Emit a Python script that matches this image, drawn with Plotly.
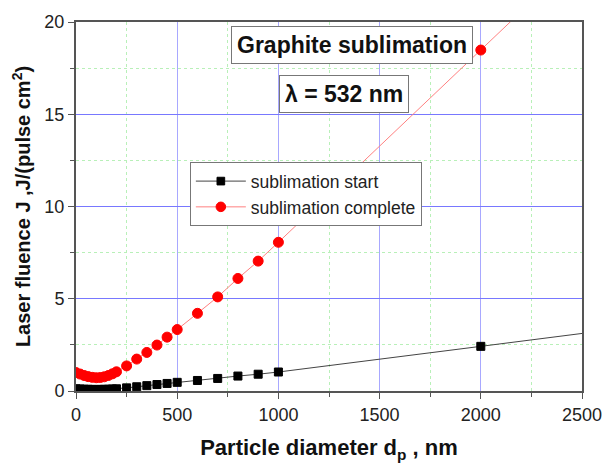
import plotly.graph_objects as go

# Particle diameter (nm)
d_start = [0, 20, 40, 60, 80, 100, 120, 140, 160, 180, 200,
           250, 300, 350, 400, 450, 500, 600, 700, 800, 900, 1000, 2000, 2500]
J_start = [0.12, 0.11, 0.10, 0.09, 0.09, 0.08, 0.09, 0.09, 0.10, 0.11, 0.12,
           0.17, 0.23, 0.29, 0.35, 0.41, 0.47, 0.57, 0.68, 0.81, 0.91, 1.03, 2.42, 3.12]

d_comp = [0, 20, 40, 60, 80, 100, 120, 140, 160, 180, 200,
          250, 300, 350, 400, 450, 500, 600, 700, 800, 900, 1000, 2000, 2500]
J_comp = [1.00, 0.92, 0.84, 0.78, 0.74, 0.72, 0.73, 0.77, 0.84, 0.93, 1.04,
          1.36, 1.73, 2.09, 2.49, 2.92, 3.33, 4.21, 5.10, 6.10, 7.04, 8.06, 18.48, 23.7]

# last entry is only a line continuation (no visible marker)
sz_start = [8] * (len(d_start) - 1) + [0]
sz_comp = [10] * (len(d_comp) - 1) + [0]

fig = go.Figure()
fig.add_trace(go.Scatter(
    x=d_start, y=J_start, mode="lines+markers", name="sublimation start",
    line=dict(color="#444444", width=1),
    marker=dict(symbol="square", size=sz_start, color="black",
                opacity=1, line=dict(width=1, color="black")),
))
fig.add_trace(go.Scatter(
    x=d_comp, y=J_comp, mode="lines+markers", name="sublimation complete",
    line=dict(color="#ff8080", width=1),
    marker=dict(symbol="circle", size=sz_comp, color="#ff0000",
                opacity=1, line=dict(width=1, color="#ff0000")),
))

font_family = "Liberation Sans, Arial, sans-serif"

fig.update_layout(
    width=614, height=470,
    margin=dict(l=76, r=23, t=14, b=79),
    paper_bgcolor="white", plot_bgcolor="white",
    font=dict(family=font_family, color="#222222"),
    showlegend=True,
    legend=dict(
        x=0.225, y=0.62, xanchor="left", yanchor="top",
        bgcolor="white", bordercolor="#777777", borderwidth=1,
        font=dict(size=17.5, family=font_family, color="#222222"),
        itemwidth=50, tracegroupgap=0,
    ),
    xaxis=dict(
        range=[0, 2500], tickvals=[0, 500, 1000, 1500, 2000, 2500],
        showline=True, linecolor="#555555", linewidth=2, mirror=True,
        ticks="outside", ticklen=6, tickwidth=1, tickcolor="#555555",
        showgrid=True, gridcolor="#a8a8ff", gridwidth=1,
        zeroline=False,
        tickfont=dict(size=18, family=font_family, color="#222222"),
        minor=dict(dtick=250, ticks="outside", ticklen=4, tickcolor="#555555",
                   showgrid=True, gridcolor="#b8f0b8", griddash="dot", gridwidth=1),
        title=dict(text="<b>Particle diameter d<sub>p</sub> , nm</b>",
                   font=dict(size=22, family=font_family, color="#111111"), standoff=16),
    ),
    yaxis=dict(
        range=[0, 20], tickvals=[0, 5, 10, 15, 20],
        showline=True, linecolor="#555555", linewidth=2, mirror=True,
        ticks="outside", ticklen=6, tickwidth=1, tickcolor="#555555",
        showgrid=True, gridcolor="#7878ff", gridwidth=1,
        zeroline=False,
        tickfont=dict(size=18, family=font_family, color="#222222"),
        minor=dict(dtick=2.5, ticks="outside", ticklen=4, tickcolor="#555555",
                   showgrid=True, gridcolor="#b8f0b8", griddash="dot", gridwidth=1),
        title=dict(text="<b>Laser fluence J ,J/(pulse cm<sup>2</sup>)</b>",
                   font=dict(size=20, family=font_family, color="#111111"), standoff=8),
    ),
    annotations=[
        dict(x=1365, y=18.75, xref="x", yref="y", showarrow=False,
             text="<b>Graphite sublimation</b>",
             font=dict(size=23, family=font_family, color="#111111"),
             bgcolor="white", bordercolor="#777777", borderwidth=1, borderpad=5),
        dict(x=1325, y=16.1, xref="x", yref="y", showarrow=False,
             text="<b>λ = 532 nm</b>",
             font=dict(size=23, family=font_family, color="#111111"),
             bgcolor="white", bordercolor="#777777", borderwidth=1, borderpad=5),
    ],
)

fig.write_html("out.html")
